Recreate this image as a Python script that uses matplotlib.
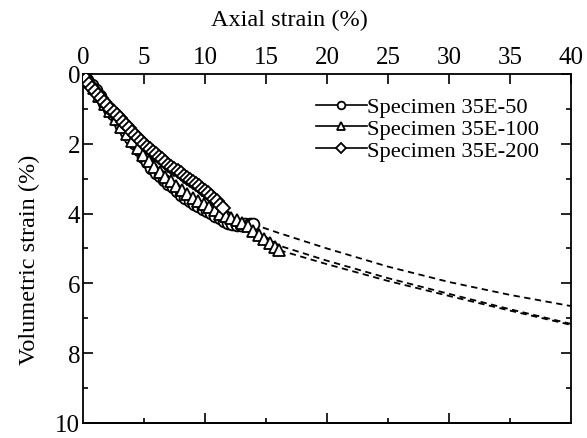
import matplotlib.pyplot as plt
from matplotlib.ticker import MultipleLocator

x_50 = [0, 0.35, 0.7, 1.05, 1.4, 1.75, 2.1, 2.45, 2.8, 3.15, 3.5, 3.85, 4.2, 4.55,
        4.9, 5.25, 5.6, 5.95, 6.3, 6.65, 7.0, 7.35, 7.7, 8.05, 8.4, 8.75, 9.1, 9.45,
        9.8, 10.15, 10.5, 10.85, 11.2, 11.55, 11.9, 12.25, 12.6, 12.95, 13.3, 13.65, 13.9]
y_50 = [0, 0.16, 0.32, 0.47, 0.64, 0.82, 1.0, 1.16, 1.33, 1.49, 1.66, 1.83, 1.99, 2.17,
        2.37, 2.53, 2.68, 2.83, 2.93, 3.04, 3.15, 3.25, 3.36, 3.47, 3.55, 3.64, 3.72, 3.79,
        3.86, 3.93, 3.99, 4.06, 4.13, 4.2, 4.27, 4.31, 4.32, 4.32, 4.31, 4.3, 4.3]

x_100 = [0, 0.45, 0.9, 1.35, 1.8, 2.25, 2.7, 3.15, 3.6, 4.05, 4.5, 4.95, 5.4, 5.85,
         6.3, 6.75, 7.2, 7.65, 8.1, 8.55, 9.0, 9.45, 9.9, 10.35, 10.8, 11.25, 11.7,
         12.15, 12.6, 13.05, 13.5, 13.95, 14.4, 14.85, 15.3, 15.75, 16.1]
y_100 = [0, 0.2, 0.41, 0.62, 0.85, 1.07, 1.3, 1.52, 1.72, 1.92, 2.13, 2.33, 2.5, 2.67,
         2.82, 2.95, 3.08, 3.2, 3.33, 3.44, 3.55, 3.64, 3.73, 3.82, 3.91, 4.0, 4.06,
         4.12, 4.18, 4.26, 4.37, 4.49, 4.6, 4.72, 4.83, 4.95, 5.05]

x_200 = [0, 0.25, 0.5, 0.75, 1.0, 1.25, 1.5, 1.75, 2.0, 2.25, 2.5, 2.75, 3.0, 3.25,
         3.5, 3.75, 4.0, 4.25, 4.5, 4.75, 5.0, 5.25, 5.5, 5.75, 6.0, 6.25, 6.5, 6.75,
         7.0, 7.25, 7.5, 7.75, 8.0, 8.25, 8.5, 8.75, 9.0, 9.25, 9.5, 9.75, 10.0, 10.25,
         10.5, 10.75, 11.0, 11.25, 11.5]
y_200 = [0.05, 0.15, 0.28, 0.4, 0.5, 0.6, 0.7, 0.8, 0.9, 0.99, 1.08, 1.18, 1.27, 1.37,
         1.46, 1.56, 1.65, 1.74, 1.83, 1.92, 2.0, 2.08, 2.15, 2.23, 2.3, 2.38, 2.45, 2.53,
         2.6, 2.66, 2.72, 2.79, 2.85, 2.91, 2.97, 3.04, 3.1, 3.16, 3.22, 3.29, 3.35, 3.42,
         3.5, 3.57, 3.65, 3.75, 3.85]

# Extrapolated (dashed) curves
ext_x_50 = [13.9, 16, 20, 25, 30, 35, 40]
ext_y_50 = [4.3, 4.55, 5.0, 5.52, 5.96, 6.33, 6.65]
ext_x_100 = [16.1, 20, 25, 30, 35, 40]
ext_y_100 = [5.05, 5.45, 5.93, 6.36, 6.78, 7.19]
ext_x_200 = [11.5, 14, 16.1, 20, 25, 30, 35, 40]
ext_y_200 = [3.85, 4.45, 4.92, 5.35, 5.85, 6.3, 6.74, 7.16]

labels = ["Specimen 35E-50", "Specimen 35E-100", "Specimen 35E-200"]

plt.rcParams["font.family"] = "Liberation Serif"

fig = plt.figure(figsize=(5.87, 4.39), dpi=100)
ax = fig.add_axes([0.1414, 0.0342, 0.8313, 0.795])

# dashed extrapolations below the markers
ext_sets = [(ext_x_50, ext_y_50, 0), (ext_x_100, ext_y_100, 0), (ext_x_200, ext_y_200, 3)]
for ex, ey, off in ext_sets:
    ax.plot(ex, ey, color="black", lw=1.3, ls=(off, (3.5, 2.5)), zorder=1)

ax.plot(x_50, y_50, color="black", lw=1.2, marker="o", ms=8.5, mfc="white",
        mec="black", mew=1.3, label=labels[0], zorder=3)
ax.plot(x_100, y_100, color="black", lw=1.2, marker="^", ms=9, mfc="white",
        mec="black", mew=1.3, label=labels[1], zorder=4)
ax.plot(x_200, y_200, color="black", lw=1.2, marker="D", ms=7.5, mfc="white",
        mec="black", mew=1.3, label=labels[2], zorder=5)

ax.set_xlim(0, 40)
ax.set_ylim(10, 0)

ax.xaxis.tick_top()
ax.xaxis.set_label_position("top")
ax.xaxis.set_major_locator(MultipleLocator(5))
ax.yaxis.set_major_locator(MultipleLocator(2))
ax.yaxis.set_minor_locator(MultipleLocator(1))
ax.tick_params(axis="x", which="major", direction="in", length=7, width=1.2,
               labelsize=18, pad=4, top=True, bottom=False)
ax.tick_params(axis="y", which="major", direction="in", length=7, width=1.2,
               labelsize=18, pad=2, left=True, right=True)
ax.tick_params(axis="y", which="minor", direction="in", length=3.5, width=1.2,
               left=True, right=True)

# bottom spine ticks without labels
sec = ax.secondary_xaxis("bottom")
sec.set_xticks([10, 20, 30])
sec.set_xticks([5, 15, 25, 35], minor=True)
sec.tick_params(which="major", direction="in", length=7, width=1.2, labelbottom=False)
sec.tick_params(which="minor", direction="in", length=3.5, width=1.2)
sec.spines["bottom"].set_linewidth(1.3)

for s in ax.spines.values():
    s.set_linewidth(1.3)

ax.set_xlabel("Axial strain (%)", fontsize=17.5)
ax.xaxis.set_label_coords(0.424, 1.14)
ax.set_ylabel("Volumetric strain (%)", fontsize=17.5)
ax.yaxis.set_label_coords(-0.088, 0.47)

ax.legend(loc="upper right", bbox_to_anchor=(0.935, 0.935), frameon=False,
          fontsize=16.2, handlelength=2.3, handletextpad=0.0, labelspacing=0.05,
          borderpad=0, borderaxespad=0, markerscale=0.65)

fig.savefig("out.png", dpi=100)
